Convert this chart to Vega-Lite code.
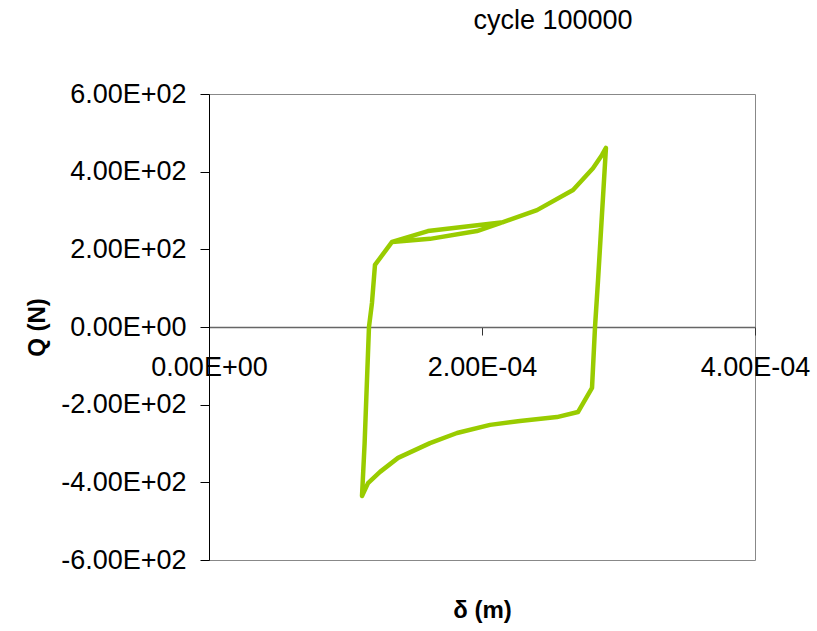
{
  "$schema": "https://vega.github.io/schema/vega-lite/v6.json",
  "width": 546,
  "height": 466,
  "autosize": {"type": "none"},
  "padding": {"left": 209, "top": 94, "right": 62, "bottom": 71},
  "background": "white",
  "title": {
    "text": "cycle 100000",
    "font": "Liberation Sans",
    "fontSize": 27,
    "fontWeight": "normal",
    "color": "black",
    "anchor": "middle",
    "dx": 71,
    "offset": 45
  },
  "config": {
    "view": {"stroke": "#888888", "strokeWidth": 1},
    "font": "Liberation Sans"
  },
  "data": {
    "values": [
      {"i": 1, "d": 0.0001341, "q": 219},
      {"i": 2, "d": 0.0001619, "q": 227},
      {"i": 3, "d": 0.0001963, "q": 247},
      {"i": 4, "d": 0.0002154, "q": 270},
      {"i": 5, "d": 0.0002403, "q": 301},
      {"i": 6, "d": 0.0002667, "q": 353},
      {"i": 7, "d": 0.0002813, "q": 409},
      {"i": 8, "d": 0.0002879, "q": 443},
      {"i": 9, "d": 0.0002908, "q": 461},
      {"i": 10, "d": 0.0002850, "q": 120},
      {"i": 11, "d": 0.0002828, "q": 0},
      {"i": 12, "d": 0.0002806, "q": -157},
      {"i": 13, "d": 0.0002703, "q": -219},
      {"i": 14, "d": 0.0002549, "q": -232},
      {"i": 15, "d": 0.0002278, "q": -242},
      {"i": 16, "d": 0.0002059, "q": -252},
      {"i": 17, "d": 0.0001817, "q": -273},
      {"i": 18, "d": 0.0001619, "q": -299},
      {"i": 19, "d": 0.0001385, "q": -337},
      {"i": 20, "d": 0.0001253, "q": -373},
      {"i": 21, "d": 0.0001165, "q": -402},
      {"i": 22, "d": 0.0001121, "q": -435},
      {"i": 23, "d": 0.0001140, "q": -300},
      {"i": 24, "d": 0.0001172, "q": 0},
      {"i": 25, "d": 0.0001194, "q": 62},
      {"i": 26, "d": 0.0001216, "q": 160},
      {"i": 27, "d": 0.0001341, "q": 219},
      {"i": 28, "d": 0.0001604, "q": 247},
      {"i": 29, "d": 0.0002154, "q": 270}
    ]
  },
  "mark": {"type": "line", "color": "#99CC00", "strokeWidth": 4.5, "strokeJoin": "round", "strokeCap": "round", "clip": true},
  "encoding": {
    "order": {"field": "i", "type": "quantitative"},
    "x": {
      "field": "d",
      "type": "quantitative",
      "scale": {"domain": [0, 0.0004], "nice": false, "zero": false},
      "axis": {
        "values": [0, 0.0002, 0.0004],
        "grid": false,
        "offset": -233,
        "domainColor": "#666666",
        "domainWidth": 1.5,
        "tickColor": "#333333",
        "tickSize": 8,
        "labelFontSize": 27,
        "labelColor": "black",
        "labelPadding": 19,
        "labelFlush": false,
        "labelOverlap": false,
        "labelExpr": "replace(replace(replace(format(datum.value, '.2e'), 'e+', 'E+0'), 'e-', 'E-0'), '\u2212', '-')",
        "title": "δ (m)",
        "titleFontSize": 24,
        "titleFontWeight": "bold",
        "titleColor": "black",
        "titleY": 283,
        "titleBaseline": "middle"
      }
    },
    "y": {
      "field": "q",
      "type": "quantitative",
      "scale": {"domain": [-600, 600], "nice": false, "zero": false},
      "axis": {
        "values": [-600, -400, -200, 0, 200, 400, 600],
        "grid": false,
        "domainColor": "black",
        "tickColor": "black",
        "tickSize": 9,
        "labelFontSize": 27,
        "labelColor": "black",
        "labelPadding": 14,
        "labelFlush": false,
        "labelOverlap": false,
        "labelExpr": "replace(replace(replace(format(datum.value, '.2e'), 'e+', 'E+0'), 'e-', 'E-0'), '\u2212', '-')",
        "title": "Q (N)",
        "titleFontSize": 24,
        "titleFontWeight": "bold",
        "titleColor": "black",
        "titlePadding": 11
      }
    }
  }
}
